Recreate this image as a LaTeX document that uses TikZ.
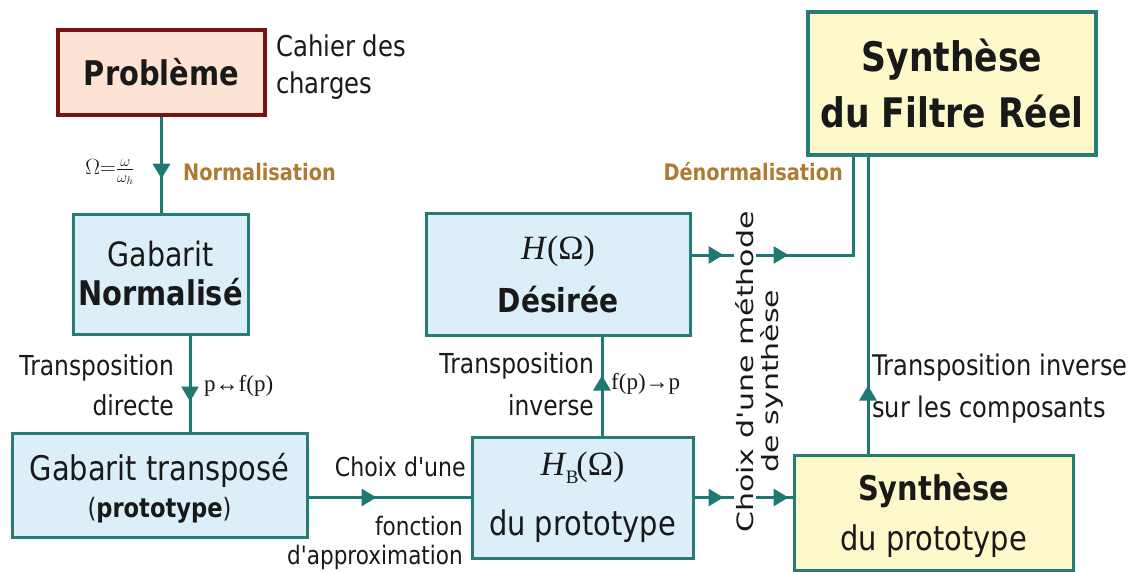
\RequirePackage{fix-cm}
\documentclass[tikz,border=0pt]{standalone}
\usepackage{graphicx}
\usepackage{fontspec}
\defaultfontfeatures[\rmfamily]{}
\setmainfont{DejaVu Sans}[FakeStretch=0.85]
\newfontfamily\vfont{DejaVu Sans}
\newfontfamily\tm{Liberation Serif}
\usetikzlibrary{arrows.meta,decorations.markings}

\newcommand\fs[2]{\fontsize{#1}{#2}\selectfont}

\definecolor{ink}{RGB}{25,25,25}
\definecolor{linecol}{RGB}{32,120,116}
\definecolor{boxline}{RGB}{40,124,120}
\definecolor{bluefill}{RGB}{220,239,248}
\definecolor{yellowfill}{RGB}{253,249,202}
\definecolor{redline}{RGB}{122,18,18}
\definecolor{peach}{RGB}{252,227,211}
\definecolor{brownlbl}{RGB}{176,122,50}

\tikzset{
  box/.style={draw=boxline, line width=3pt, fill=bluefill, inner sep=0pt, align=center, text=ink},
  synbox/.style={box, fill=yellowfill},
  lbl/.style={inner sep=0pt, text=ink},
  conn/.style={draw=linecol, line width=3pt},
  am/.style={postaction={decorate, decoration={markings,
      mark=at position #1 with {\arrow{Triangle[length=15pt,width=17pt]}}}}},
  amm/.style 2 args={postaction={decorate, decoration={markings,
      mark=at position #1 with {\arrow{Triangle[length=15pt,width=17pt]}},
      mark=at position #2 with {\arrow{Triangle[length=15pt,width=17pt]}}}}}
}

\begin{document}
\begin{tikzpicture}[x=1pt,y=-1pt]
\fill[white] (0,0) rectangle (1139,572);
\useasboundingbox (0,0) rectangle (1139,572);

% guide coordinates for off-centre connectors
\coordinate (lx) at (190,0);
\coordinate (ux) at (602,0);
\coordinate (ty) at (0,255);
\coordinate (sx) at (853,0);
\coordinate (rx) at (868,0);

% boxes
\node[box, draw=redline, fill=peach, line width=3.5pt, minimum width=207pt, minimum height=85pt,
      font=\fs{34}{40}\bfseries] (prob) at (161.5,72.5) {Problème};
\node[box, minimum width=175pt, minimum height=120pt, font=\fs{34}{39}] (gn) at (160.5,274)
  {{\fs{33.5}{39}Gabarit}\\\textbf{Normalisé}};
\node[box, minimum width=295pt, minimum height=104pt, font=\fs{34}{37}] (gt) at (159.5,485)
  {\rule{0pt}{34pt}Gabarit transposé\\{\fs{26.6}{37}(\textbf{prototype})}};
\node[box, minimum width=221pt, minimum height=121pt, font=\fs{34}{60}] (hb) at (582.5,497.5)
  {{\tm\fs{34}{60}\textit{H}\kern-1pt\raisebox{-0.22em}{\fs{19}{19}B}\kern-2pt(Ω)}\\du prototype};
\node[box, minimum width=264pt, minimum height=122pt, font=\fs{33}{53}] (hd) at (558,274)
  {{\tm\fs{34}{53}\textit{H}(Ω)}\\\textbf{Désirée}};
\node[synbox, line width=4.5pt, minimum width=288pt, minimum height=143pt, font=\fs{40.7}{56}\bfseries]
  (sr) at (952,83.5) {Synthèse\\du Filtre Réel};
\node[synbox, minimum width=279pt, minimum height=115pt, font=\fs{34}{50}] (sp) at (933.5,512.5)
  {\rule{0pt}{34pt}\textbf{Synthèse}\\du prototype};

% connectors
\draw[conn, am=62pt] (prob.south) -- (prob.south |- gn.north);
\draw[conn, am=66pt] (gn.south -| lx) -- (gt.north -| lx);
\draw[conn, am=68pt] (hb.west -| gt.east) -- (hb.west);
\draw[conn, am=60pt] (hb.north -| ux) -- (hd.south -| ux);
\draw[conn, amm={32pt}{97pt}] (hd.east |- ty) -| (sx |- sr.south);
\draw[conn, amm={29pt}{94pt}] (hb.east) -- (sp.west |- hb.east);
\draw[conn, am=68pt] (sp.north -| rx) -- (sr.south -| rx);

% labels
\node[lbl, anchor=west, align=left, font=\fs{28.6}{37}] (cahier) at (276,67) {Cahier des\\charges};
\node[lbl, font=\fs{22}{26}] (omega) at (110,172) {$\Omega{=}\frac{\omega}{\omega_h}$};
\node[lbl, anchor=west, text=brownlbl, font=\fs{22.7}{27}\bfseries] (norm) at (183,172) {Normalisation};
\node[lbl, anchor=east, align=right, font=\fs{27.5}{40}] (tdir) at (174,385) {Transposition\\directe};
\node[lbl, anchor=west, font=\tm\fs{23}{26}] (pf) at (204,386) {p↔f(p)};
\node[lbl, anchor=east, font=\fs{26}{30}] (choix) at (466,467) {Choix d'une};
\node[lbl, anchor=east, align=right, font=\fs{25.4}{29.5}] (approx) at (463,543) {fonction\\d'approximation};
\node[lbl, anchor=east, align=right, font=\fs{27.5}{42}] (tinv) at (594,384) {Transposition\\inverse};
\node[lbl, anchor=west, font=\tm\fs{23}{26}] (fp) at (611,384) {f(p)→p};
\node[lbl, anchor=east, text=brownlbl, font=\fs{22.7}{27}\bfseries] (denorm) at (843,172) {Dénormalisation};
\node[lbl, fill=white, inner sep=2pt, rotate=90, font=\vfont\fs{30}{36}] (vt1) at (745,372)
  {\scalebox{1}[0.75]{Choix d'une méthode}};
\node[lbl, rotate=90, font=\vfont\fs{30}{36}] (vt2) at (772,381)
  {\scalebox{1}[0.75]{de synthèse}};
\node[lbl, anchor=west, align=left, font=\fs{28.4}{42}] (tinv2) at (872,389)
  {Transposition inverse\\sur les composants};
\end{tikzpicture}
\end{document}
